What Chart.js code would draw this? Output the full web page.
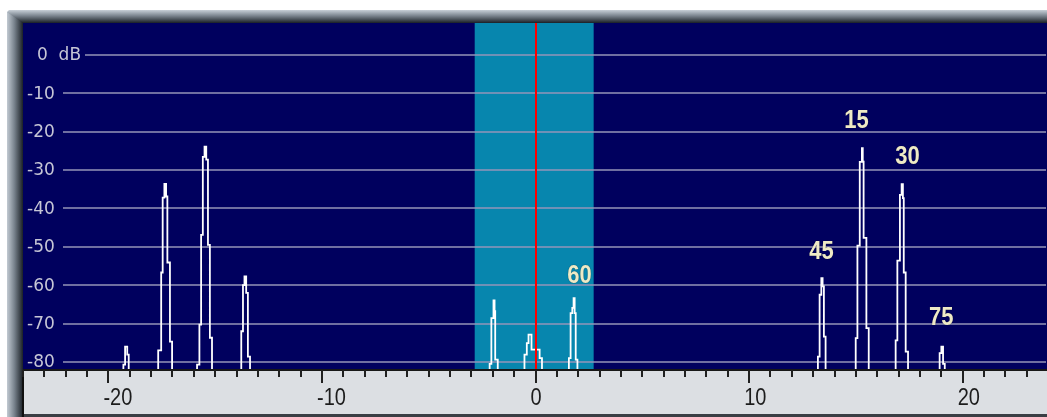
<!DOCTYPE html>
<html>
<head>
<meta charset="utf-8">
<script src="https://cdn.jsdelivr.net/npm/chart.js@4.4.1/dist/chart.umd.min.js"></script>
<style>
  html, body { margin: 0; padding: 0; background: #fff; }
  #wrap { position: relative; width: 1047px; height: 417px; }
</style>
</head>
<body>
<div id="wrap"><canvas id="spectrum"></canvas></div>
<script>
// Spectrum trace, drawn as a stepped line.
// traceFreq = where each step starts (kHz offset), traceDb = level to the right of it
const FLOOR = -95

const traceFreq = [
  -24,
  -19.30, -19.22, -19.12, -19.05,
  -17.67, -17.53, -17.46, -17.38, -17.30, -17.24, -17.12, -17.02,
  -15.85, -15.74, -15.66, -15.58, -15.50, -15.42, -15.34, -15.25, -15.15,
  -13.78, -13.70, -13.63, -13.55, -13.47, -13.37,
  -2.15, -2.07, -1.97, -1.92, -1.89, -1.77,
  -0.52, -0.41, -0.33, -0.19, 0.19, 0.30,
  1.56, 1.64, 1.72, 1.78, 1.83, 1.88, 1.96,
  13.22, 13.30, 13.38, 13.44, 13.50, 13.58,
  14.99, 15.07, 15.18, 15.28, 15.32, 15.36, 15.49, 15.60,
  16.86, 16.94, 17.06, 17.14, 17.20, 17.24, 17.33, 17.44,
  18.92, 19.00, 19.08, 19.16,
  23.9
]

const traceDb = [
  FLOOR,
  -80.7, -76, -78.1, FLOOR,
  -77, -56.7, -37.2, -33.6, -36.9, -54.1, -74.7, FLOOR,
  -80.7, -70.3, -46.9, -26.6, -23.9, -27.3, -49.5, -73.7, FLOOR,
  -72, -60, -57.7, -62, -78.6, FLOOR,
  -80.5, -68.6, -64, -66.8, -79.4, FLOOR,
  -78.1, -75.1, -72.9, -76.8, -79, FLOOR,
  -79, -67.3, -65.9, -63.4, -67.3, -79.4, FLOOR,
  -78.6, -62.5, -58.2, -60.3, -73.4, FLOOR,
  -73.8, -49.7, -27.9, -24.3, -27.8, -47.7, -71.2, FLOOR,
  -74.4, -53.6, -36.5, -33.7, -37.3, -56.7, -77.3, FLOOR,
  -77.7, -76, -80.5, FLOOR,
  FLOOR
]

// annotations above the peaks
const peakLabels = ['15', '30', '45', '60', '75']
const peakLabelFreq = [15.03, 17.41, 13.39, 2.06, 19.0]
const peakLabelDb = [-17.2, -26.6, -51.3, -57.6, -68.5]

const yTicks = [0, -10, -20, -30, -40, -50, -60, -70, -80]
const xLabels = [-20, -10, 0, 10, 20]
const passband = [-2.85, 2.72]
const tuneFreq = 0

const X_MIN = -24
const X_MAX = 23.9

// text with a little vertical stretch, the original glyphs are tall
function stretchedText(ctx, text, x, y, sy) {
  ctx.save()
  ctx.translate(x, y)
  ctx.scale(1, sy)
  ctx.fillText(text, 0, 0)
  ctx.restore()
}

const panel = {
  id: 'panel',
  beforeDraw(chart) {
    const { ctx, chartArea: a, width, height } = chart
    ctx.save()
    ctx.fillStyle = '#ffffff'
    ctx.fillRect(0, 0, width, height)

    // bevelled frame
    let g = ctx.createLinearGradient(7, 0, a.left, 0)
    g.addColorStop(0, '#c2cad2')
    g.addColorStop(0.45, '#7a848e')
    g.addColorStop(1, '#1a2026')
    ctx.fillStyle = g
    ctx.fillRect(7, 12, a.left - 7, height - 12)

    g = ctx.createLinearGradient(0, 10, 0, a.top)
    g.addColorStop(0, '#c8d0d8')
    g.addColorStop(0.45, '#7a848e')
    g.addColorStop(1, '#1a2026')
    ctx.fillStyle = g
    ctx.beginPath()
    ctx.moveTo(9, 10)
    ctx.lineTo(width, 10)
    ctx.lineTo(width, a.top)
    ctx.lineTo(a.left, a.top)
    ctx.lineTo(7, 12)
    ctx.closePath()
    ctx.fill()

    // plot background
    ctx.fillStyle = '#00005e'
    ctx.fillRect(a.left, a.top, width - a.left, a.bottom - a.top)

    // frequency axis panel
    ctx.fillStyle = '#dcdfe3'
    ctx.fillRect(a.left, a.bottom, width - a.left, height - a.bottom)
    ctx.fillStyle = '#3a3e44'
    ctx.fillRect(a.left - 1, height - 3, width, 3)
    ctx.fillStyle = '#101010'
    ctx.fillRect(a.left - 1, a.bottom, 2, height - a.bottom)
    ctx.restore()
  },
  beforeDatasetsDraw(chart) {
    const { ctx, chartArea: a, scales: { x, y } } = chart
    ctx.save()
    ctx.beginPath()
    ctx.rect(a.left, a.top, a.right - a.left, a.bottom - a.top)
    ctx.clip()

    // passband
    const x0 = x.getPixelForValue(passband[0])
    const x1 = x.getPixelForValue(passband[1])
    ctx.fillStyle = '#0786ae'
    ctx.fillRect(x0, a.top, x1 - x0, a.bottom - a.top)

    // level grid, starts right of the labels
    ctx.strokeStyle = '#9494b8'
    ctx.lineWidth = 1.5
    yTicks.forEach(v => {
      const py = Math.round(y.getPixelForValue(v))
      ctx.beginPath()
      ctx.moveTo(a.left + (v === 0 ? 62 : 40), py)
      ctx.lineTo(a.right, py)
      ctx.stroke()
    })

    // level labels
    ctx.fillStyle = '#c6c6d6'
    ctx.font = '17px "DejaVu Sans", sans-serif'
    ctx.textAlign = 'left'
    ctx.textBaseline = 'middle'
    yTicks.forEach(v => {
      const py = y.getPixelForValue(v) + 1
      if (v === 0) ctx.fillText('0  dB', a.left + 14, py)
      else ctx.fillText(String(v), a.left + 4, py)
    })
    ctx.restore()
  },
  afterDatasetsDraw(chart) {
    const { ctx, chartArea: a, scales: { x, y } } = chart
    ctx.save()

    // tuning marker
    const px = Math.round(x.getPixelForValue(tuneFreq))
    ctx.strokeStyle = '#ff0000'
    ctx.lineWidth = 2
    ctx.beginPath()
    ctx.moveTo(px, a.top)
    ctx.lineTo(px, a.bottom)
    ctx.stroke()

    // peak annotations
    ctx.font = 'bold 22px "Liberation Sans", Arial, sans-serif'
    ctx.textAlign = 'center'
    ctx.textBaseline = 'middle'
    ctx.fillStyle = '#eeeac6'
    ctx.shadowColor = 'rgba(0, 0, 0, 0.6)'
    ctx.shadowBlur = 1
    peakLabels.forEach((t, i) => {
      stretchedText(ctx, t, x.getPixelForValue(peakLabelFreq[i]), y.getPixelForValue(peakLabelDb[i]), 1.15)
    })
    ctx.restore()
  },
  afterDraw(chart) {
    const { ctx, chartArea: a, width, scales: { x } } = chart
    ctx.save()
    // axis line
    ctx.fillStyle = '#181818'
    ctx.fillRect(a.left, a.bottom - 1, width - a.left, 2)

    // ticks every 1, long ones every 10
    ctx.strokeStyle = '#202020'
    ctx.lineWidth = 2
    for (let f = Math.ceil(X_MIN); f <= X_MAX; f++) {
      const px = Math.round(x.getPixelForValue(f))
      const len = f % 10 === 0 ? 13 : 7
      ctx.beginPath()
      ctx.moveTo(px, a.bottom)
      ctx.lineTo(px, a.bottom + len)
      ctx.stroke()
    }

    ctx.fillStyle = '#1c1c1c'
    ctx.font = '20px "Liberation Sans", Arial, sans-serif'
    ctx.textAlign = 'left'
    ctx.textBaseline = 'middle'
    xLabels.forEach(v => {
      const px = x.getPixelForValue(v)
      stretchedText(ctx, String(v), px - 5, a.bottom + 28, 1.22)
    })
    ctx.restore()
  }
}

const points = traceFreq.map((f, i) => ({ x: f, y: traceDb[i] }))

new Chart(document.getElementById('spectrum'), {
  type: 'line',
  data: {
    datasets: [{
      label: 'Spectrum',
      data: points,
      borderColor: '#ffffff',
      borderWidth: 1.8,
      pointRadius: 0,
      stepped: true,
      fill: false,
      clip: 0
    }]
  },
  options: {
    responsive: true,
    maintainAspectRatio: false,
    animation: false,
    layout: {
      padding: { left: 23, top: 23, right: 1, bottom: 47 }
    },
    plugins: {
      legend: { display: false },
      tooltip: { enabled: false }
    },
    scales: {
      x: {
        type: 'linear',
        min: X_MIN,
        max: X_MAX,
        display: false
      },
      y: {
        min: -82.1,
        max: 8.3,
        display: false
      }
    }
  },
  plugins: [panel]
})
</script>
</body>
</html>
